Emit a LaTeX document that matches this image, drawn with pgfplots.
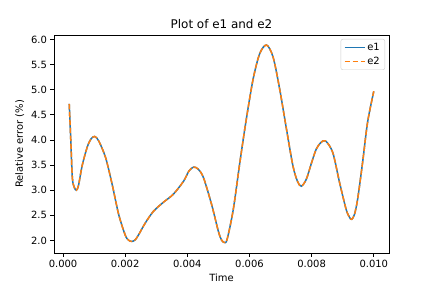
\documentclass[border=0pt]{standalone}
\usepackage{pgfplots}
\pgfplotsset{compat=1.18}
\usepackage{pgfplotstable}
\usepackage{fontspec}
\setmainfont{DejaVu Sans}

\definecolor{mplblue}{HTML}{1F77B4}
\definecolor{mplorange}{HTML}{FF7F0E}

% relative error
\pgfplotstableread{
t e
0.00020 4.72
0.00025 4.00
0.00030 3.25
0.00036 3.06
0.00043 3.00
0.00050 3.10
0.00062 3.50
0.00078 3.86
0.00090 4.02
0.00102 4.07
0.00115 3.98
0.00137 3.65
0.00158 3.12
0.00179 2.52
0.00200 2.11
0.00210 2.01
0.00221 1.98
0.00232 2.01
0.00243 2.11
0.00265 2.35
0.00291 2.58
0.00323 2.76
0.00355 2.92
0.00388 3.18
0.00405 3.38
0.00420 3.46
0.00435 3.42
0.00452 3.25
0.00478 2.72
0.00500 2.18
0.00510 2.01
0.00519 1.96
0.00528 2.02
0.00548 2.62
0.00569 3.55
0.00590 4.42
0.00612 5.22
0.00633 5.72
0.00655 5.89
0.00676 5.65
0.00697 5.02
0.00719 4.22
0.00740 3.48
0.00755 3.17
0.00767 3.08
0.00783 3.22
0.00800 3.55
0.00815 3.82
0.00830 3.95
0.00845 3.98
0.00868 3.75
0.00890 3.15
0.00911 2.62
0.00922 2.46
0.00929 2.42
0.00938 2.52
0.00948 2.82
0.00964 3.55
0.00980 4.35
0.01000 4.97
}\errtable

\begin{document}
\begin{tikzpicture}
\begin{axis}[
  at={(0,0)}, anchor=south west,
  scale only axis, width=335bp, height=218bp,
  clip mode=individual,
  xmin=-0.00029, xmax=0.01049, ymin=1.75, ymax=6.09,
  xtick={0,0.002,0.004,0.006,0.008,0.01},
  ytick={2,2.5,3,3.5,4,4.5,5,5.5,6},
  scaled x ticks=false, scaled y ticks=false,
  x tick label style={/pgf/number format/fixed,/pgf/number format/fixed zerofill,/pgf/number format/precision=3},
  y tick label style={/pgf/number format/fixed,/pgf/number format/fixed zerofill,/pgf/number format/precision=1},
  tick align=outside, tick pos=left, major tick length=3.5bp,
  tick style={black, line width=0.8bp},
  axis line style={line width=0.8bp},
  xlabel={Time}, ylabel={Relative error (\%)},
  legend cell align=left,
  legend style={at={(1,1)}, anchor=north east, xshift=-4bp, yshift=-4bp,
    draw=black!20, rounded corners=2bp, fill=white, row sep=1bp},
  /pgf/number format/assume math mode=true,
]
\addplot[color=mplblue, line width=1.5bp, smooth,
  legend image code/.code={%
    \pgfsetlinewidth{1.5bp}\pgfsetstrokecolor{mplblue}%
    \pgfpathmoveto{\pgfpoint{0bp}{0bp}}\pgfpathlineto{\pgfpoint{20bp}{0bp}}%
    \pgfusepath{stroke}}]
  table[x=t, y=e] {\errtable};
\addlegendentry{e1}
\addplot[color=mplorange, line width=1.5bp, smooth, dash pattern=on 5.55bp off 2.4bp,
  legend image code/.code={%
    \pgfsetlinewidth{1.5bp}\pgfsetstrokecolor{mplorange}%
    \pgfsetdash{{5.55bp}{2.4bp}}{0bp}%
    \pgfpathmoveto{\pgfpoint{0bp}{0bp}}\pgfpathlineto{\pgfpoint{20bp}{0bp}}%
    \pgfusepath{stroke}}]
  table[x=t, y=e] {\errtable};
\addlegendentry{e2}
\node[anchor=base, font=\fontsize{12}{14}\selectfont] at (rel axis cs:0.5,1) [yshift=6bp] {Plot of e1 and e2};
\end{axis}
\path[use as bounding box] (-54bp,-35bp) rectangle (378bp,253bp);
\end{tikzpicture}
\end{document}
